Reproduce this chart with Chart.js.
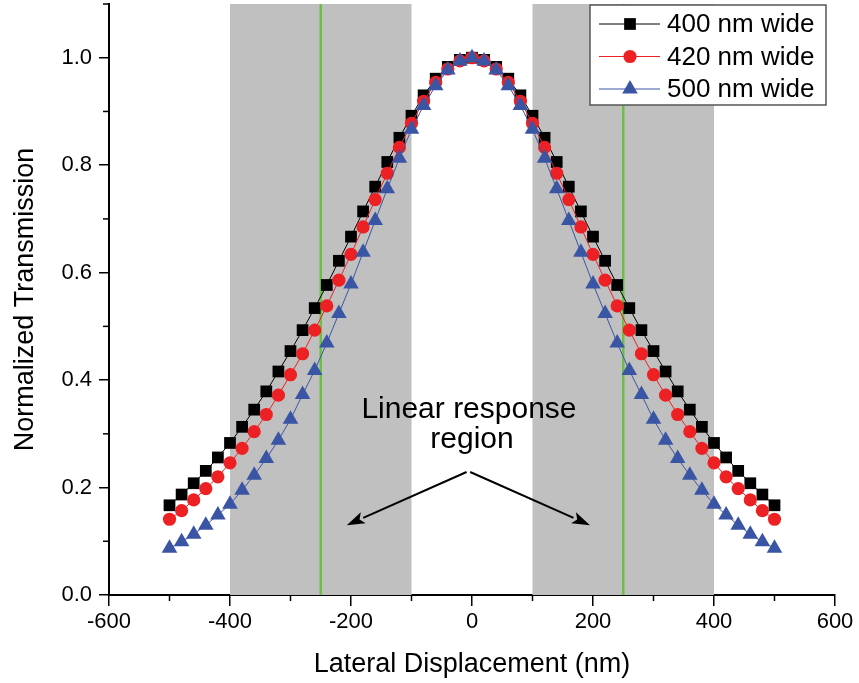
<!DOCTYPE html>
<html>
<head>
<meta charset="utf-8">
<script src="https://cdn.jsdelivr.net/npm/chart.js@4.4.1/dist/chart.umd.min.js"></script>
<style>
  html, body { margin: 0; padding: 0; background: #fff; }
  canvas { display: block; }
</style>
</head>
<body>
<canvas id="grafico" width="859" height="683"></canvas>
<script>
// deslocamento lateral (nm)
const deslocamento = [-500, -480, -460, -440, -420, -400, -380, -360, -340, -320, -300, -280, -260,
  -240, -220, -200, -180, -160, -140, -120, -100, -80, -60, -40, -20, 0,
  20, 40, 60, 80, 100, 120, 140, 160, 180, 200, 220, 240, 260, 280, 300, 320, 340, 360,
  380, 400, 420, 440, 460, 480, 500];

const largura400 = [0.167, 0.187, 0.208, 0.231, 0.256, 0.283, 0.313, 0.345, 0.379, 0.416, 0.454, 0.493, 0.534,
  0.577, 0.622, 0.667, 0.714, 0.760, 0.806, 0.851, 0.892, 0.930, 0.961, 0.983, 0.996, 1.000,
  0.996, 0.983, 0.961, 0.930, 0.892, 0.851, 0.806, 0.760, 0.714, 0.667, 0.622, 0.577, 0.534,
  0.493, 0.454, 0.416, 0.379, 0.345, 0.313, 0.283, 0.256, 0.231, 0.208, 0.187, 0.167];

const largura420 = [0.141, 0.157, 0.177, 0.198, 0.220, 0.246, 0.273, 0.304, 0.336, 0.372, 0.410, 0.449, 0.493,
  0.538, 0.586, 0.634, 0.685, 0.736, 0.785, 0.833, 0.878, 0.919, 0.954, 0.979, 0.994, 1.000,
  0.994, 0.979, 0.954, 0.919, 0.878, 0.833, 0.785, 0.736, 0.685, 0.634, 0.586, 0.538, 0.493,
  0.449, 0.410, 0.372, 0.336, 0.304, 0.273, 0.246, 0.220, 0.198, 0.177, 0.157, 0.141];

const largura500 = [0.087, 0.099, 0.113, 0.130, 0.149, 0.169, 0.195, 0.223, 0.254, 0.288, 0.327, 0.373, 0.418,
  0.469, 0.524, 0.579, 0.638, 0.697, 0.756, 0.813, 0.867, 0.911, 0.948, 0.977, 0.994, 1.000,
  0.994, 0.977, 0.948, 0.911, 0.867, 0.813, 0.756, 0.697, 0.638, 0.579, 0.524, 0.469, 0.418,
  0.373, 0.327, 0.288, 0.254, 0.223, 0.195, 0.169, 0.149, 0.130, 0.113, 0.099, 0.087];

const nomesSeries = ['400 nm wide', '420 nm wide', '500 nm wide'];

const ticksX = [-600, -400, -200, 0, 200, 400, 600];
const ticksXMenores = [-500, -300, -100, 100, 300, 500];
const ticksY = [0, 0.2, 0.4, 0.6, 0.8, 1.0];
const ticksYMenores = [0.1, 0.3, 0.5, 0.7, 0.9, 1.1];

// regioes de resposta linear e linhas verdes
const faixas = [[-400, -100], [100, 400]];
const linhasVerdes = [-250, 250];

const fonte = "'Liberation Sans', Arial, Helvetica, sans-serif";
Chart.defaults.font.family = fonte;
Chart.defaults.color = '#000';

const pares = vals => vals.map((v, i) => ({ x: deslocamento[i], y: v }));

const pluginFaixas = {
  id: 'pluginFaixas',
  beforeDatasetsDraw(chart) {
    const { ctx, chartArea, scales: { x } } = chart;
    ctx.save();
    ctx.fillStyle = '#c0c0c0';
    faixas.forEach(([a, b]) => {
      const x0 = x.getPixelForValue(a);
      const x1 = x.getPixelForValue(b);
      ctx.fillRect(x0, chartArea.top, x1 - x0, chartArea.bottom - chartArea.top);
    });
    ctx.strokeStyle = '#6cbe45';
    ctx.lineWidth = 2.5;
    linhasVerdes.forEach(v => {
      const xp = x.getPixelForValue(v);
      ctx.beginPath();
      ctx.moveTo(xp, chartArea.top);
      ctx.lineTo(xp, chartArea.bottom);
      ctx.stroke();
    });
    ctx.restore();
  }
};

const pluginTicksMenores = {
  id: 'pluginTicksMenores',
  afterDraw(chart) {
    const { ctx, chartArea, scales: { x, y } } = chart;
    ctx.save();
    ctx.strokeStyle = '#000';
    ctx.lineWidth = 1.5;
    ticksXMenores.forEach(v => {
      const xp = x.getPixelForValue(v);
      ctx.beginPath();
      ctx.moveTo(xp, chartArea.bottom);
      ctx.lineTo(xp, chartArea.bottom + 6);
      ctx.stroke();
    });
    ticksYMenores.forEach(v => {
      const yp = y.getPixelForValue(v);
      ctx.beginPath();
      ctx.moveTo(chartArea.left, yp);
      ctx.lineTo(chartArea.left - 6, yp);
      ctx.stroke();
    });
    ctx.restore();
  }
};

function seta(ctx, x0, y0, x1, y1) {
  const ang = Math.atan2(y1 - y0, x1 - x0);
  const comp = 18, meia = 6;
  const bx = x1 - comp * Math.cos(ang), by = y1 - comp * Math.sin(ang);
  ctx.beginPath();
  ctx.moveTo(x0, y0);
  ctx.lineTo(bx, by);
  ctx.stroke();
  ctx.beginPath();
  ctx.moveTo(x1, y1);
  ctx.lineTo(bx + meia * Math.sin(ang), by - meia * Math.cos(ang));
  ctx.lineTo(bx + 4 * Math.cos(ang), by + 4 * Math.sin(ang));
  ctx.lineTo(bx - meia * Math.sin(ang), by + meia * Math.cos(ang));
  ctx.closePath();
  ctx.fill();
}

const pluginAnotacao = {
  id: 'pluginAnotacao',
  afterDatasetsDraw(chart) {
    const { ctx, scales: { x, y } } = chart;
    ctx.save();
    ctx.fillStyle = '#000';
    ctx.strokeStyle = '#000';
    ctx.font = `30px ${fonte}`;
    ctx.textAlign = 'center';
    ctx.textBaseline = 'alphabetic';
    ctx.fillText('Linear response', x.getPixelForValue(-5), y.getPixelForValue(0.329));
    ctx.fillText('region', x.getPixelForValue(0), y.getPixelForValue(0.273));
    ctx.lineWidth = 2;
    seta(ctx, x.getPixelForValue(-9), y.getPixelForValue(0.229), x.getPixelForValue(-207), y.getPixelForValue(0.130));
    seta(ctx, x.getPixelForValue(-3), y.getPixelForValue(0.229), x.getPixelForValue(195), y.getPixelForValue(0.130));
    ctx.restore();
  }
};

const pluginLegenda = {
  id: 'pluginLegenda',
  afterDraw(chart) {
    const { ctx } = chart;
    const cx = 590, cy = 5, cw = 236, ch = 100;
    ctx.save();
    ctx.fillStyle = '#fff';
    ctx.fillRect(cx, cy, cw, ch);
    ctx.strokeStyle = '#555';
    ctx.lineWidth = 1.5;
    ctx.strokeRect(cx, cy, cw, ch);
    ctx.font = `26px ${fonte}`;
    ctx.textBaseline = 'middle';
    ctx.textAlign = 'left';
    chart.data.datasets.forEach((ds, i) => {
      const yy = cy + 19 + i * 32.5;
      ctx.strokeStyle = ds.borderColor;
      ctx.lineWidth = 1;
      ctx.beginPath();
      ctx.moveTo(cx + 9, yy);
      ctx.lineTo(cx + 70, yy);
      ctx.stroke();
      ctx.fillStyle = ds.backgroundColor;
      Chart.helpers.drawPoint(ctx, { pointStyle: ds.pointStyle, radius: ds.pointRadius, borderWidth: 0, rotation: 0 }, cx + 40, yy);
      ctx.fillStyle = '#000';
      ctx.fillText(ds.label, cx + 77, yy + 1);
    });
    ctx.restore();
  }
};

const ctx = document.getElementById('grafico').getContext('2d');
new Chart(ctx, {
  type: 'line',
  data: {
    datasets: [{
      label: nomesSeries[0],
      data: pares(largura400),
      borderColor: '#000000',
      backgroundColor: '#000000',
      borderWidth: 1,
      pointStyle: 'rect',
      pointRadius: 8.3,
      pointBorderWidth: 0,
      tension: 0,
      order: 3
    }, {
      label: nomesSeries[1],
      data: pares(largura420),
      borderColor: '#ed2024',
      backgroundColor: '#ed2024',
      borderWidth: 1,
      pointStyle: 'circle',
      pointRadius: 6.6,
      pointBorderWidth: 0,
      tension: 0,
      order: 2
    }, {
      label: nomesSeries[2],
      data: pares(largura500),
      borderColor: '#3b55a5',
      backgroundColor: '#3b55a5',
      borderWidth: 1,
      pointStyle: 'triangle',
      pointRadius: 9,
      pointBorderWidth: 0,
      tension: 0,
      order: 1
    }]
  },
  options: {
    responsive: false,
    animation: false,
    devicePixelRatio: 1,
    layout: { autoPadding: false, padding: { top: 4, right: 24, bottom: 0, left: 0 } },
    plugins: {
      legend: { display: false },
      tooltip: { enabled: false }
    },
    scales: {
      x: {
        type: 'linear',
        min: -600,
        max: 600,
        afterBuildTicks: s => { s.ticks = ticksX.map(v => ({ value: v })); },
        afterFit: s => { s.height = 88; s.paddingLeft = 0; s.paddingRight = 0; },
        grid: { display: true, drawOnChartArea: false, drawTicks: true, tickLength: 11, color: '#000', lineWidth: 1.5 },
        border: { display: true, color: '#000', width: 2 },
        ticks: { padding: 3, autoSkip: false, maxRotation: 0, font: { size: 22 }, color: '#000', callback: v => String(v) },
        title: { display: true, text: 'Lateral Displacement (nm)', font: { size: 27 }, color: '#000', padding: { top: 0, bottom: 2 } }
      },
      y: {
        type: 'linear',
        min: 0,
        max: 1.1,
        afterBuildTicks: s => { s.ticks = ticksY.map(v => ({ value: v })); },
        afterFit: s => { s.width = 109; s.paddingTop = 0; s.paddingBottom = 0; },
        grid: { display: true, drawOnChartArea: false, drawTicks: true, tickLength: 10, color: '#000', lineWidth: 1.5 },
        border: { display: true, color: '#000', width: 2 },
        ticks: { padding: 7, autoSkip: false, font: { size: 22 }, color: '#000', callback: v => v.toFixed(1) },
        title: { display: true, text: 'Normalized Transmission', font: { size: 27 }, color: '#000', padding: { top: 9, bottom: 0 } }
      }
    }
  },
  plugins: [pluginFaixas, pluginTicksMenores, pluginAnotacao, pluginLegenda]
});
</script>
</body>
</html>
